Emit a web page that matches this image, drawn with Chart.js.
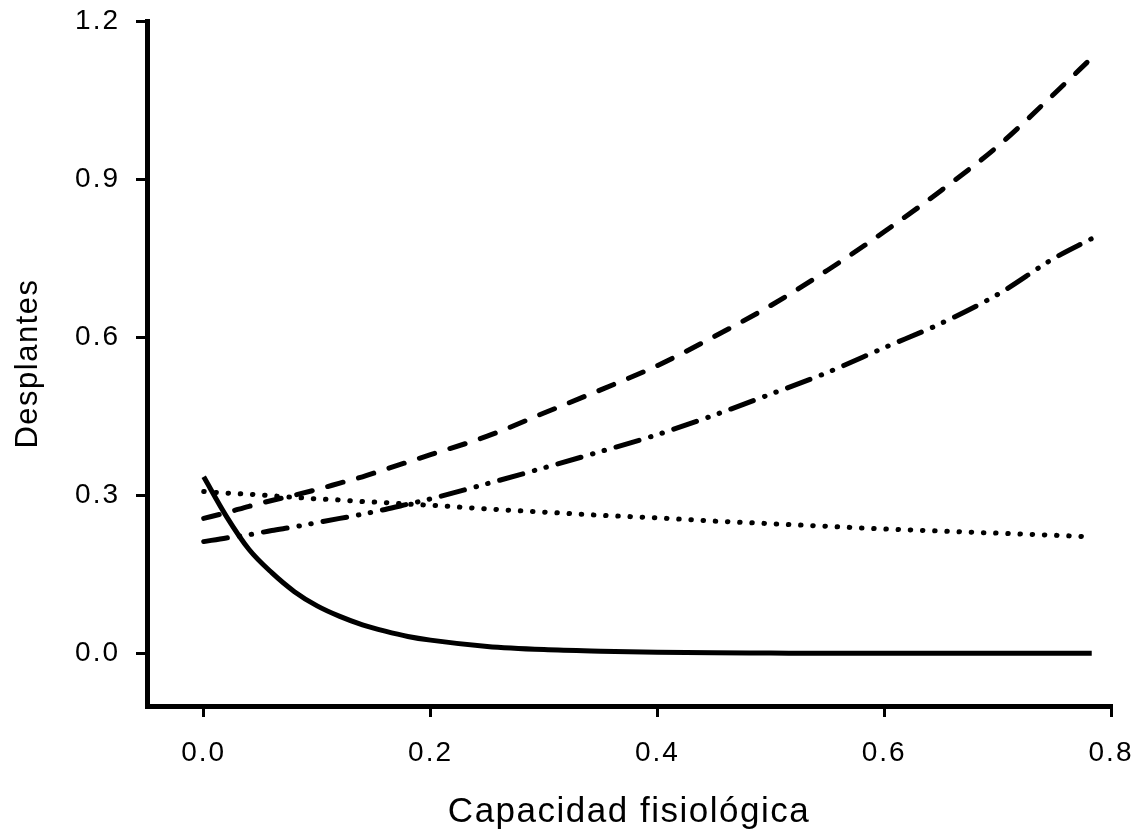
<!DOCTYPE html>
<html>
<head>
<meta charset="utf-8">
<script src="https://cdn.jsdelivr.net/npm/chart.js@4/dist/chart.umd.min.js"></script>
<style>
  html, body { margin: 0; padding: 0; background: #ffffff; }
  #wrap { width: 1136px; height: 833px; }
</style>
</head>
<body>
<div id="wrap"><canvas id="c" width="1136" height="833"></canvas></div>
<script>
// ---- data ----
const xs = [0, 0.02, 0.04, 0.06, 0.08, 0.10, 0.12, 0.14, 0.16, 0.18, 0.20,
            0.25, 0.30, 0.35, 0.40, 0.45, 0.50, 0.55, 0.60, 0.65, 0.70, 0.75, 0.783];

const solidY = [0.335, 0.260, 0.197, 0.153, 0.117, 0.090, 0.070, 0.054, 0.042, 0.032, 0.025,
                0.013, 0.007, 0.004, 0.002, 0.001, 0.0005, 0, 0, 0, 0, 0, 0];

const dashedY = [0.256, 0.267, 0.279, 0.290, 0.300, 0.311, 0.323, 0.335, 0.349, 0.363, 0.377,
                 0.412, 0.456, 0.500, 0.546, 0.601, 0.660, 0.727, 0.800, 0.878, 0.962, 1.062, 1.130];

const dashDotY = [0.212, 0.219, 0.225, 0.233, 0.240, 0.248, 0.256, 0.264, 0.273, 0.283, 0.293,
                  0.322, 0.352, 0.383, 0.415, 0.452, 0.492, 0.533, 0.580, 0.626, 0.681, 0.750, 0.787];

const dottedY = [0.307, 0.304, 0.302, 0.299, 0.296, 0.293, 0.291, 0.288, 0.286, 0.283, 0.281,
                 0.274, 0.268, 0.262, 0.257, 0.251, 0.246, 0.241, 0.236, 0.232, 0.228, 0.224, 0.221];

const xTicks = [0.0, 0.2, 0.4, 0.6, 0.8];
const yTicks = [0.0, 0.3, 0.6, 0.9, 1.2];

const xTitle = 'Capacidad fisiológica';
const yTitle = 'Desplantes';

// ---- chart ----
const pts = ys => xs.map((x, i) => ({ x: x, y: ys[i] }));

const FONT = '"Liberation Sans", Arial, sans-serif';

// titles are drawn before the datasets, tick labels (z:1) after them
const spacingPlugin = {
  id: 'spacing',
  beforeDraw(chart) { chart.ctx.letterSpacing = '1.5px'; },
  afterDatasetsDraw(chart) { chart.ctx.letterSpacing = '2px'; },
  afterDraw(chart) { chart.ctx.letterSpacing = '0px'; }
};

const baseLine = {
  showLine: true,
  pointRadius: 0,
  pointHoverRadius: 0,
  borderColor: '#000000',
  borderWidth: 5,
  fill: false,
  cubicInterpolationMode: 'monotone'
};

new Chart(document.getElementById('c'), {
  type: 'scatter',
  data: {
    datasets: [
      Object.assign({}, baseLine, { label: 'solid', data: pts(solidY), borderCapStyle: 'butt' }),
      Object.assign({}, baseLine, { label: 'dashed', data: pts(dashedY), borderDash: [16, 16], borderCapStyle: 'round' }),
      Object.assign({}, baseLine, { label: 'dashdot', data: pts(dashDotY), borderDash: [24, 12, 0.5, 11.5, 0.5, 12], borderCapStyle: 'round' }),
      Object.assign({}, baseLine, { label: 'dotted', data: pts(dottedY), borderDash: [0.5, 11.7], borderCapStyle: 'round' })
    ]
  },
  options: {
    responsive: false,
    animation: false,
    devicePixelRatio: 1,
    layout: { padding: { top: 21, right: 25, left: 0, bottom: 0 } },
    plugins: { legend: { display: false }, tooltip: { enabled: false } },
    scales: {
      x: {
        type: 'linear',
        min: -0.05,
        max: 0.8,
        afterBuildTicks: axis => { axis.ticks = xTicks.map(v => ({ value: v })); },
        afterFit: scale => { scale.height = 127; scale.paddingLeft = 0; scale.paddingRight = 0; },
        border: { display: true, width: 5, color: '#000000' },
        grid: { display: true, drawOnChartArea: false, drawTicks: true, tickLength: 11, tickWidth: 3, tickColor: '#000000', lineWidth: 3, color: '#000000' },
        ticks: {
          z: 1,
          color: '#000000',
          padding: 19,
          maxRotation: 0,
          font: { family: FONT, size: 28 },
          callback: v => Number(v).toFixed(1)
        },
        title: {
          display: true,
          text: xTitle,
          color: '#000000',
          font: { family: FONT, size: 35 },
          padding: { top: 0, bottom: 0 }
        }
      },
      y: {
        type: 'linear',
        min: -0.1,
        max: 1.2,
        afterBuildTicks: axis => { axis.ticks = yTicks.map(v => ({ value: v })); },
        afterFit: scale => { scale.width = 147; scale.paddingTop = 0; scale.paddingBottom = 0; },
        border: { display: true, width: 5, color: '#000000' },
        grid: { display: true, drawOnChartArea: false, drawTicks: true, tickLength: 11, tickWidth: 3, tickColor: '#000000', lineWidth: 3, color: '#000000' },
        ticks: {
          z: 1,
          color: '#000000',
          padding: 16,
          font: { family: FONT, size: 28 },
          callback: v => Number(v).toFixed(1)
        },
        title: {
          display: true,
          text: yTitle,
          color: '#000000',
          font: { family: FONT, size: 31 },
          padding: { top: 10, bottom: 0 }
        }
      }
    }
  },
  plugins: [spacingPlugin]
});
</script>
</body>
</html>
